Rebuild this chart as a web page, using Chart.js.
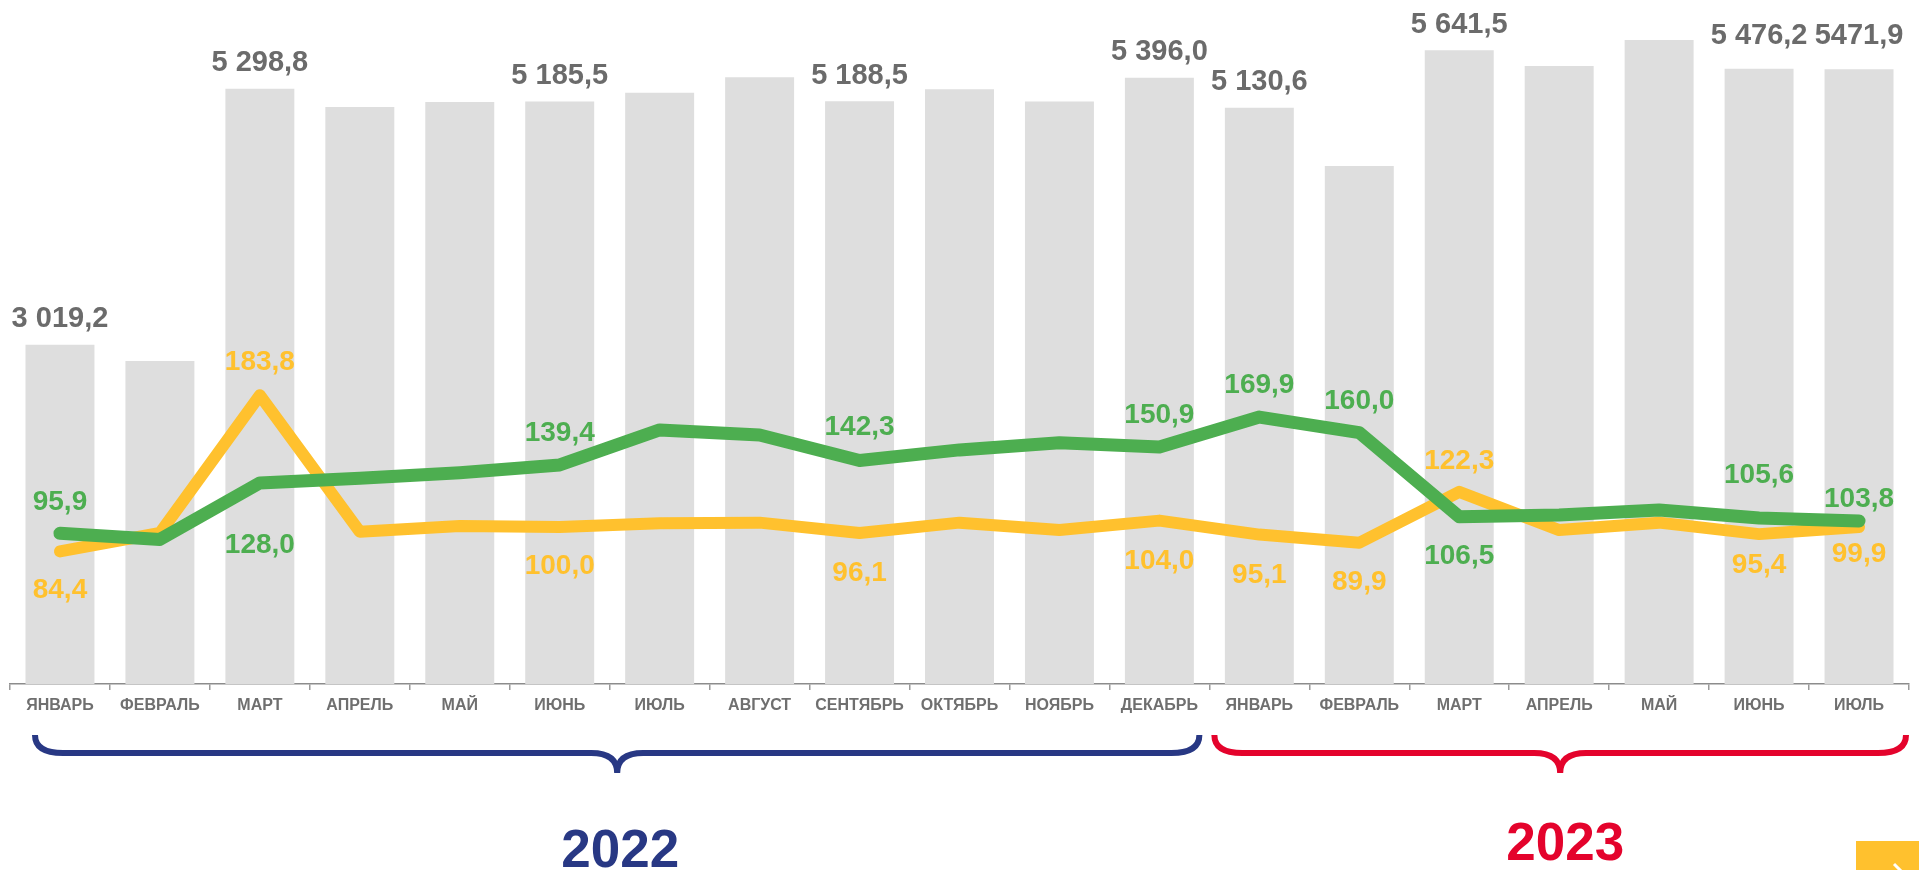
<!DOCTYPE html>
<html>
<head>
<meta charset="utf-8">
<script src="https://cdn.jsdelivr.net/npm/chart.js@4/dist/chart.umd.min.js"></script>
<style>
  html, body { margin: 0; padding: 0; background: #fff; }
  #wrap { width: 1919px; height: 870px; position: relative; }
</style>
</head>
<body>
<div id="wrap"><canvas id="chart"></canvas></div>
<script>
// months, 2022 Jan .. 2023 Jul
const months = ["ЯНВАРЬ", "ФЕВРАЛЬ", "МАРТ", "АПРЕЛЬ", "МАЙ", "ИЮНЬ", "ИЮЛЬ", "АВГУСТ", "СЕНТЯБРЬ", "ОКТЯБРЬ", "НОЯБРЬ", "ДЕКАБРЬ",
                "ЯНВАРЬ", "ФЕВРАЛЬ", "МАРТ", "АПРЕЛЬ", "МАЙ", "ИЮНЬ", "ИЮЛЬ"];

// grey bars
const volumes = [3019.2, 2876, 5298.8, 5136, 5181, 5185.5, 5264, 5402, 5188.5, 5294, 5186, 5396.0,
                 5130.6, 4611, 5641.5, 5502, 5733, 5476.2, 5471.9];
const volumeLabels = ["3 019,2", "", "5 298,8", "", "", "5 185,5", "", "", "5 188,5", "", "", "5 396,0",
                      "5 130,6", "", "5 641,5", "", "", "5 476,2", "5471,9"];

// green line
const greenIdx = [95.9, 92.0, 128.0, 131.0, 134.5, 139.4, 161.7, 158.5, 142.3, 149.0, 153.6, 150.9,
                  169.9, 160.0, 106.5, 107.6, 110.7, 105.6, 103.8];
// yellow line
const yellowIdx = [84.4, 96.1, 183.8, 96.9, 100.6, 100.0, 102.3, 102.7, 96.1, 102.7, 98.0, 104.0,
                   95.1, 89.9, 122.3, 98.0, 102.7, 95.4, 99.9];

const years = [
  { text: "2022", from: 0, to: 11, color: "#283884" },
  { text: "2023", from: 12, to: 18, color: "#e4032c" }
];

// which points get a value label, and how far from the line (px, negative = above)
const greenLabelAt = { 0: -33, 2: 60, 5: -34, 8: -35, 11: -34, 12: -34, 13: -34, 14: 37, 17: -45, 18: -24 };
const yellowLabelAt = { 0: 37, 2: -35, 5: 37, 8: 38, 11: 38, 12: 38, 13: 37, 14: -33, 17: 29, 18: 25 };
const barLabelLift = { 17: 35, 18: 36 };

const GREEN = "#4dae50";
const YELLOW = "#ffc12e";
const FONT = '"Liberation Sans", Arial, sans-serif';

function fmt(v) {
  return v.toFixed(1).replace(".", ",");
}

const labelsPlugin = {
  id: "labelsPlugin",
  afterDatasetsDraw(chart) {
    const ctx = chart.ctx;
    ctx.save();
    ctx.textAlign = "center";
    ctx.textBaseline = "alphabetic";

    // bar values
    ctx.font = "bold 29px " + FONT;
    ctx.fillStyle = "#6b6b6b";
    chart.getDatasetMeta(0).data.forEach((el, i) => {
      const t = volumeLabels[i];
      if (!t) return;
      const w = ctx.measureText(t).width;
      const cx = Math.min(el.x, chart.width - 3 - w / 2);
      const lift = barLabelLift[i] || 28;
      ctx.fillText(t, cx, el.y - lift + 0.358 * 29);
    });

    // line values
    ctx.font = "bold 28px " + FONT;
    [[1, greenIdx, greenLabelAt, GREEN], [2, yellowIdx, yellowLabelAt, YELLOW]].forEach(([di, vals, at, col]) => {
      ctx.fillStyle = col;
      chart.getDatasetMeta(di).data.forEach((el, i) => {
        if (at[i] === undefined) return;
        ctx.fillText(fmt(vals[i]), el.x, el.y + at[i] + 0.358 * 28);
      });
    });
    ctx.restore();
  },
  afterDraw(chart) {
    const ctx = chart.ctx;
    const x = chart.scales.x;
    const half = (x.getPixelForValue(1) - x.getPixelForValue(0)) / 2;
    const yTop = 735, yLine = 753, yTip = 773;
    ctx.save();
    years.forEach((yr, k) => {
      const x1 = x.getPixelForValue(yr.from) - half + (k === 0 ? 25 : 5);
      const x2 = x.getPixelForValue(yr.to) + half - (k === 0 ? 10 : 3);
      const mid = (x1 + x2) / 2;
      ctx.strokeStyle = yr.color;
      ctx.lineWidth = 6;
      ctx.lineJoin = "miter";
      ctx.lineCap = "butt";
      ctx.beginPath();
      ctx.moveTo(x1, yTop);
      ctx.quadraticCurveTo(x1, yLine, x1 + 28, yLine);
      ctx.lineTo(mid - 26, yLine);
      ctx.quadraticCurveTo(mid, yLine, mid, yTip);
      ctx.quadraticCurveTo(mid, yLine, mid + 26, yLine);
      ctx.lineTo(x2 - 28, yLine);
      ctx.quadraticCurveTo(x2, yLine, x2, yTop);
      ctx.stroke();

      ctx.fillStyle = yr.color;
      ctx.font = "bold 53px " + FONT;
      ctx.textAlign = "center";
      ctx.textBaseline = "alphabetic";
      ctx.fillText(yr.text, mid + (k === 0 ? 3 : 5), k === 0 ? 867 : 860);
    });

    // small yellow corner button
    ctx.fillStyle = YELLOW;
    ctx.fillRect(1856, 841, 63, 29);
    ctx.strokeStyle = "#fff";
    ctx.lineWidth = 3;
    ctx.beginPath();
    ctx.moveTo(1894, 864);
    ctx.lineTo(1902, 872);
    ctx.stroke();
    ctx.restore();
  }
};

new Chart(document.getElementById("chart"), {
  data: {
    labels: months,
    datasets: [
      {
        type: "bar",
        data: volumes,
        backgroundColor: "#dedede",
        categoryPercentage: 1,
        barPercentage: 0.69,
        yAxisID: "y",
        order: 3
      },
      {
        type: "line",
        data: greenIdx,
        borderColor: GREEN,
        borderWidth: 13,
        borderCapStyle: "round",
        borderJoinStyle: "round",
        pointRadius: 0,
        tension: 0,
        yAxisID: "y1",
        order: 1
      },
      {
        type: "line",
        data: yellowIdx,
        borderColor: YELLOW,
        borderWidth: 12,
        borderCapStyle: "round",
        borderJoinStyle: "round",
        pointRadius: 0,
        tension: 0,
        yAxisID: "y1",
        order: 2
      }
    ]
  },
  options: {
    responsive: true,
    maintainAspectRatio: false,
    animation: false,
    layout: { padding: { left: 10, right: 10, top: 10, bottom: 0 } },
    plugins: {
      legend: { display: false },
      tooltip: { enabled: false }
    },
    scales: {
      x: {
        offset: true,
        afterFit: (s) => { s.height = 186; },
        grid: {
          offset: true,
          drawOnChartArea: false,
          drawTicks: true,
          tickLength: 6,
          color: "#9a9a9a",
          lineWidth: 1.5
        },
        border: { display: true, color: "#8c8c8c", width: 1.5 },
        ticks: {
          autoSkip: false,
          maxRotation: 0,
          padding: 6,
          color: "#6f6f6f",
          font: { family: FONT, size: 16, weight: "bold" }
        }
      },
      y: { display: false, min: 0, max: 6000 },
      y1: { display: false, min: 0, max: 429 }
    }
  },
  plugins: [labelsPlugin]
});
</script>
</body>
</html>
